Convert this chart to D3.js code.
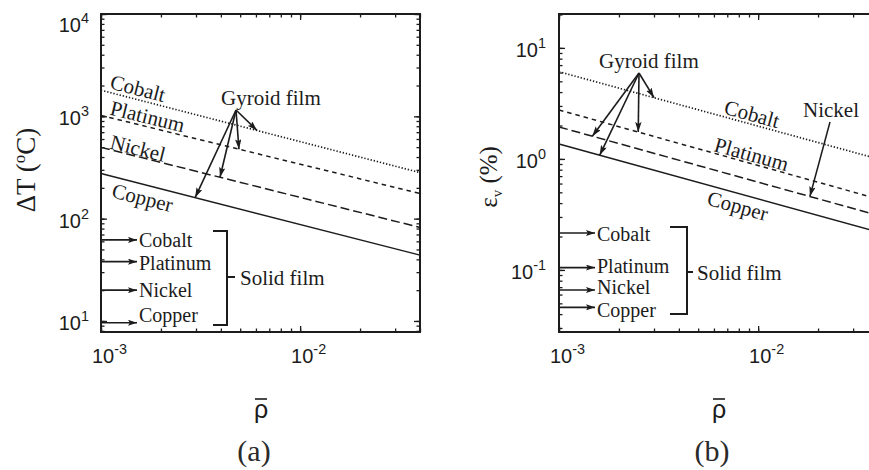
<!DOCTYPE html>
<html>
<head>
<meta charset="utf-8">
<script src="https://cdn.jsdelivr.net/npm/d3@7"></script>
<style>
  body { margin: 0; background: #fff; }
  svg { display: block; }
</style>
</head>
<body>
<svg id="chart" width="869" height="470"></svg>
<script>
// ---------- data ----------
const materials = ["Cobalt", "Platinum", "Nickel", "Copper"];
const rhoEnds = [1e-3, 4e-2];          // relative density range of the gyroid lines
const rhoMajor = [1e-3, 1e-2];

// (a) temperature change ΔT (°C) of the gyroid film at rhoEnds
const dtCobalt   = [1800, 282];
const dtPlatinum = [1020, 176];
const dtNickel   = [497, 82];
const dtCopper   = [276, 44];
// (a) ΔT of the solid film: Cobalt, Platinum, Nickel, Copper
const dtSolid = [62, 38, 20, 9.6];
const dtMajor = [10, 100, 1000, 10000];

// (b) volumetric strain εv (%) of the gyroid film at rhoEnds
const evCobalt   = [6.1, 1.0];
const evPlatinum = [2.76, 0.436];
const evNickel   = [1.94, 0.31];
const evCopper   = [1.36, 0.22];
// (b) εv of the solid film: Cobalt, Platinum, Nickel, Copper
const evSolid = [0.215, 0.105, 0.066, 0.046];
const evMajor = [0.1, 1, 10];

// ---------- layout & style ----------
const INK = "#1c1c1c";
const SERIF = "'Liberation Serif', 'Times New Roman', serif";
const SANS = "'Liberation Sans', Arial, sans-serif";
const dashes = ["1.3,1.9", "4.5,4", "9,4", null];

const panels = [
  {
    x0: 101, y0: 14, w: 319, h: 318,
    yDomain: [7.8, 1e4], yMajor: dtMajor,
    series: [dtCobalt, dtPlatinum, dtNickel, dtCopper],
    solid: dtSolid,
    // in-line labels: rho of the label start and offset from the line
    lineLabels: [
      { rho: 0.001097, dy: -4 }, { rho: 0.001097, dy: -3 },
      { rho: 0.001097, dy: -1 }, { rho: 0.00112, dy: 21 }
    ],
    gyroidText: [221, 105], gyroidFrom: [236, 110],
    gyroidTips: [0.00608, 0.00493, 0.00396, 0.00297],
    solidDy: [7, 8, 7, -1],
    bracket: { x: 227, top: 231, bottom: 325, left: 213, mid: 277, tick: 8 },
    solidText: [240, 285],
    yLabelEnd: 89,
    title: "(a)", titleX: 254,
    callout: null
  },
  {
    x0: 559, y0: 14, w: 319, h: 318,
    yDomain: [0.0276, 20.2], yMajor: evMajor,
    series: [evCobalt, evPlatinum, evNickel, evCopper],
    solid: evSolid,
    lineLabels: [
      { rho: 0.00667, dy: -3 }, { rho: 0.00594, dy: -2 },
      null, { rho: 0.00548, dy: 20 }
    ],
    gyroidText: [599, 68], gyroidFrom: [639, 73],
    gyroidTips: [0.0030, 0.0025, 0.00147, 0.0016],
    solidDy: [8, 5, 4, 10],
    bracket: { x: 687, top: 227, bottom: 314, left: 670, mid: 272, tick: 6 },
    solidText: [697, 280],
    yLabelEnd: 546,
    title: "(b)", titleX: 712,
    callout: { text: "Nickel", series: 2, rho: 0.0182, textAt: [803, 117], from: [830, 122] }
  }
];

const svg = d3.select("#chart");
const defs = svg.append("defs");

function arrowMarker(id, len, half) {
  defs.append("marker")
    .attr("id", id)
    .attr("viewBox", `0 ${-half} ${len} ${2 * half}`)
    .attr("refX", len).attr("refY", 0)
    .attr("markerUnits", "userSpaceOnUse")
    .attr("markerWidth", len).attr("markerHeight", 2 * half)
    .attr("orient", "auto")
    .append("path")
    .attr("d", `M0,${-half} L${len},0 L0,${half} L${len * 0.2},0 Z`)
    .attr("fill", INK);
}
arrowMarker("headGyroid", 10, 3.2);
arrowMarker("headSolid", 9, 3);

function supLabel(g, x, y, base, exp, anchor, size) {
  const t = g.append("text")
    .attr("x", x).attr("y", y)
    .attr("text-anchor", anchor)
    .attr("font-family", SANS).attr("font-size", size)
    .attr("fill", INK);
  t.append("tspan").text(base);
  t.append("tspan").attr("dy", -9).attr("font-size", size * 0.72).text(exp);
  return t;
}

panels.forEach((p, pi) => {
  const g = svg.append("g");
  const x = d3.scaleLog().domain(rhoEnds).range([p.x0, p.x0 + p.w]);
  const y = d3.scaleLog().domain(p.yDomain).range([p.y0 + p.h, p.y0]);

  // interpolate a straight log-log line at a given rho
  const lineAt = (vals, rho) => {
    const t = (Math.log(rho) - Math.log(rhoEnds[0])) / (Math.log(rhoEnds[1]) - Math.log(rhoEnds[0]));
    return Math.exp(Math.log(vals[0]) + t * (Math.log(vals[1]) - Math.log(vals[0])));
  };

  // ticks on all four sides, pointing inward
  const xMinor = x.ticks(), yMinor = y.ticks();
  const tickSets = [
    [d3.axisBottom(x), `translate(0,${p.y0 + p.h})`, xMinor, rhoMajor],
    [d3.axisTop(x), `translate(0,${p.y0})`, xMinor, rhoMajor],
    [d3.axisLeft(y), `translate(${p.x0},0)`, yMinor, p.yMajor],
    [d3.axisRight(y), `translate(${p.x0 + p.w},0)`, yMinor, p.yMajor]
  ];
  tickSets.forEach(([axis, tr, minor, major]) => {
    [[minor, 3.5], [major, 6]].forEach(([vals, len]) => {
      const a = g.append("g").attr("transform", tr)
        .call(axis.tickValues(vals).tickSizeInner(-len).tickSizeOuter(0).tickFormat(""));
      a.select(".domain").remove();
      a.selectAll("line").attr("stroke", INK).attr("stroke-width", 1.3);
    });
  });

  // frame
  g.append("rect")
    .attr("x", p.x0).attr("y", p.y0).attr("width", p.w).attr("height", p.h)
    .attr("fill", "none").attr("stroke", INK).attr("stroke-width", 2);

  // tick labels (kept clear of the top edge)
  rhoMajor.forEach(v => {
    const e = Math.round(Math.log10(v));
    supLabel(g, x(v) - 9, 363, "10", String(e), "start", 20);
  });
  p.yMajor.forEach(v => {
    const e = Math.round(Math.log10(v));
    supLabel(g, p.yLabelEnd, Math.max(y(v) + 9, p.y0 + 18), "10", String(e), "end", 20);
  });

  // gyroid film lines
  const line = d3.line().x(d => x(d[0])).y(d => y(d[1]));
  p.series.forEach((vals, i) => {
    g.append("path")
      .datum(rhoEnds.map((r, k) => [r, vals[k]]))
      .attr("d", line)
      .attr("fill", "none").attr("stroke", INK)
      .attr("stroke-width", i === 0 ? 1.7 : 1.5)
      .attr("stroke-dasharray", dashes[i]);
  });

  // labels running along the lines
  p.lineLabels.forEach((lab, i) => {
    if (!lab) return;
    const vals = p.series[i];
    const ang = Math.atan2(y(vals[1]) - y(vals[0]), x(rhoEnds[1]) - x(rhoEnds[0])) * 180 / Math.PI;
    const lx = x(lab.rho), ly = y(lineAt(vals, lab.rho)) + lab.dy;
    g.append("text")
      .attr("transform", `translate(${lx},${ly}) rotate(${ang})`)
      .attr("font-family", SERIF).attr("font-size", 21).attr("fill", INK)
      .text(materials[i]);
  });

  // "Gyroid film" callout with arrows onto each line
  g.append("text")
    .attr("x", p.gyroidText[0]).attr("y", p.gyroidText[1])
    .attr("font-family", SERIF).attr("font-size", 21).attr("fill", INK)
    .text("Gyroid film");
  p.gyroidTips.forEach((rho, i) => {
    g.append("line")
      .attr("x1", p.gyroidFrom[0]).attr("y1", p.gyroidFrom[1])
      .attr("x2", x(rho)).attr("y2", y(lineAt(p.series[i], rho)))
      .attr("stroke", INK).attr("stroke-width", 1.6)
      .attr("marker-end", "url(#headGyroid)");
  });

  // separate callout (Nickel in panel b)
  if (p.callout) {
    const c = p.callout;
    g.append("text")
      .attr("x", c.textAt[0]).attr("y", c.textAt[1])
      .attr("font-family", SERIF).attr("font-size", 21).attr("fill", INK)
      .text(c.text);
    g.append("line")
      .attr("x1", c.from[0]).attr("y1", c.from[1])
      .attr("x2", x(c.rho)).attr("y2", y(lineAt(p.series[c.series], c.rho)))
      .attr("stroke", INK).attr("stroke-width", 1.5)
      .attr("marker-end", "url(#headGyroid)");
  }

  // solid film values: arrows from the axis
  p.solid.forEach((v, i) => {
    const yy = y(v);
    g.append("line")
      .attr("x1", p.x0).attr("y1", yy).attr("x2", p.x0 + 36).attr("y2", yy)
      .attr("stroke", INK).attr("stroke-width", 1.6)
      .attr("marker-end", "url(#headSolid)");
    g.append("text")
      .attr("x", p.x0 + 38).attr("y", yy + p.solidDy[i])
      .attr("font-family", SERIF).attr("font-size", 20).attr("fill", INK)
      .text(materials[i]);
  });
  const b = p.bracket;
  g.append("path")
    .attr("d", `M${b.left},${b.top} H${b.x} V${b.bottom} H${b.left} M${b.x},${b.mid} H${b.x + b.tick}`)
    .attr("fill", "none").attr("stroke", INK).attr("stroke-width", 2);
  g.append("text")
    .attr("x", p.solidText[0]).attr("y", p.solidText[1])
    .attr("font-family", SERIF).attr("font-size", 21).attr("fill", INK)
    .text("Solid film");

  // x axis title: rho with an overbar
  const cx = p.x0 + 160;
  g.append("text")
    .attr("x", cx).attr("y", 418)
    .attr("text-anchor", "middle")
    .attr("font-family", SANS).attr("font-size", 25).attr("fill", INK)
    .text("ρ");
  g.append("line")
    .attr("x1", cx - 6).attr("x2", cx + 6).attr("y1", 399).attr("y2", 399)
    .attr("stroke", INK).attr("stroke-width", 1.6);

  // panel tag
  g.append("text")
    .attr("x", p.titleX).attr("y", 461)
    .attr("text-anchor", "middle")
    .attr("font-family", SERIF).attr("font-size", 30).attr("fill", "#2a2a2a")
    .text(p.title);
});

// y axis titles
const yt1 = svg.append("text")
  .attr("transform", "translate(35,170) rotate(-90)")
  .attr("text-anchor", "middle")
  .attr("font-family", SERIF).attr("font-size", 27).attr("fill", INK);
yt1.append("tspan").text("ΔT (");
yt1.append("tspan").attr("dy", -10).attr("font-size", 17).text("o");
yt1.append("tspan").attr("dy", 10).text("C)");

const yt2 = svg.append("text")
  .attr("transform", "translate(497,177) rotate(-90)")
  .attr("text-anchor", "middle")
  .attr("font-family", SERIF).attr("font-size", 25).attr("fill", INK);
yt2.append("tspan").text("ε");
yt2.append("tspan").attr("dy", 5).attr("font-size", 15).text("v");
yt2.append("tspan").attr("dy", -5).text(" (%)");
</script>
</body>
</html>
